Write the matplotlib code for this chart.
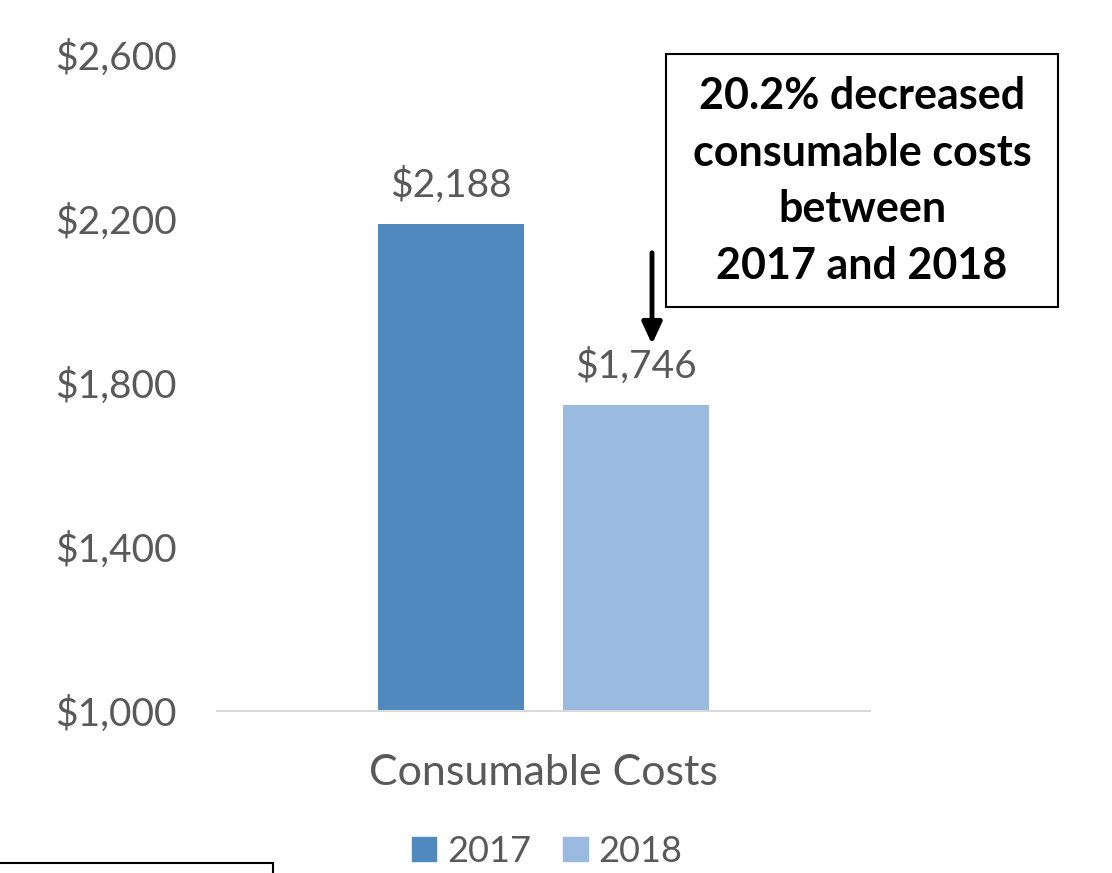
import matplotlib
matplotlib.use("Agg")
import matplotlib.pyplot as plt
from matplotlib.patches import Rectangle
from matplotlib.ticker import FuncFormatter

categories = ["Consumable Costs"]
series_names = ["2017", "2018"]
values = [2188, 1746]
yticks = [1000, 1400, 1800, 2200, 2600]
annotation = "20.2% decreased\nconsumable costs\nbetween\n2017 and 2018"

colors = ["#4F89BD", "#9BBAE0"]
grey = "#595959"
plt.rcParams["font.family"] = ["Lato", "DejaVu Sans"]

fig = plt.figure(figsize=(11.12, 8.73), dpi=100)
W, H = 1112, 873
ax = fig.add_axes([217 / W, 1 - 711 / H, (870 - 217) / W, (711 - 55) / H])

centers = [0.358, 0.642]
width = 0.224
bars = ax.bar(centers, [v - yticks[0] for v in values], width=width,
              bottom=yticks[0], color=colors, label=series_names)
for b, v in zip(bars, values):
    ax.text(b.get_x() + b.get_width() / 2, v + 50, f"${v:,}",
            ha="center", va="bottom", fontsize=28, color=grey)

ax.set_xlim(0, 1)
ax.set_ylim(yticks[0], yticks[-1])
ax.set_yticks(yticks)
ax.yaxis.set_major_formatter(FuncFormatter(lambda v, p: f"${int(v):,}"))
ax.tick_params(axis="y", length=0, labelsize=28, labelcolor=grey, pad=29)
ax.set_xticks([])
for s in ["top", "right", "left"]:
    ax.spines[s].set_visible(False)
ax.spines["bottom"].set_color("#D9D9D9")
ax.spines["bottom"].set_linewidth(1.5)

fig.text(543 / W, 1 - 773 / H, categories[0], ha="center", va="center",
         fontsize=31, color=grey)

# legend
handles = [Rectangle((0, 0), 1, 1, color=c) for c in colors]
leg = fig.legend(handles, series_names, loc="center", bbox_to_anchor=(547 / W, 1 - 851 / H),
                 ncol=2, frameon=False, fontsize=26, labelcolor=grey,
                 handlelength=0.67, handleheight=0.67, handletextpad=0.3, columnspacing=0.9)

# annotation box
fig.patches.append(Rectangle((666 / W, 1 - 307 / H), (1058 - 666) / W, (307 - 54) / H,
                             transform=fig.transFigure, fill=False, edgecolor="black", lw=1.5))
fig.text(862 / W, 1 - 181 / H, annotation, ha="center", va="center", fontsize=31,
         fontweight="bold", color="black", linespacing=1.5)
ax.annotate("", xy=(652 / W, 1 - 347 / H), xytext=(652 / W, 1 - 250 / H),
            xycoords="figure fraction", textcoords="figure fraction",
            arrowprops=dict(arrowstyle="-|>,head_length=1.3,head_width=0.6", color="black", lw=3.5))

# partial box at bottom-left
fig.patches.append(Rectangle((-5 / W, -20 / H), 278 / W, (20 + 873 - 863) / H,
                             transform=fig.transFigure, fill=False, edgecolor="black", lw=1.5))

fig.savefig("out.png", dpi=100)
